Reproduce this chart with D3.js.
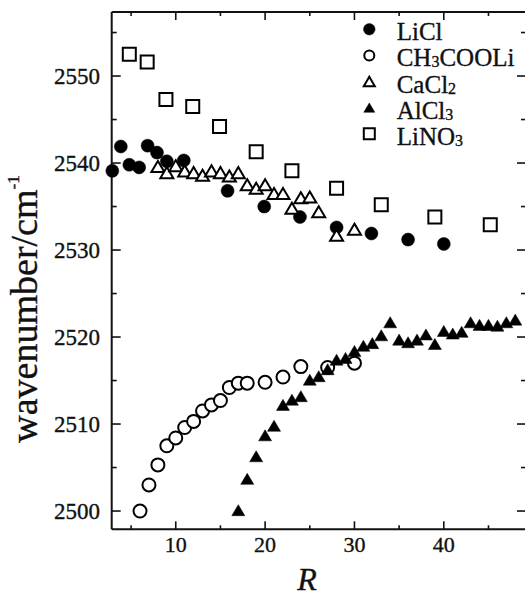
<!DOCTYPE html>
<html>
<head>
    <meta charset="utf-8">
    <script src="https://d3js.org/d3.v7.min.js"></script>
    <style>
        body { margin: 0; background: #fff; }
        text { font-family: "Liberation Serif", "Times New Roman", serif; fill: #111; stroke: #111; stroke-width: 0.35px; }
    </style>
</head>
<body>
    <svg id="chartArea" width="525" height="598"></svg>
    <script>
        // data
        const licl_R = [2.9, 3.85, 4.8, 5.9, 6.85, 7.9, 9.0, 10.9, 15.8, 19.9, 23.9, 28, 31.9, 36, 40];
        const licl_v = [2539.1, 2541.9, 2539.8, 2539.5, 2542.0, 2541.2, 2540.2, 2540.3, 2536.8, 2535.0, 2533.8, 2532.6, 2531.9, 2531.2, 2530.7];

        const acet_R = [6, 7, 8, 9, 10, 11, 12, 13, 14, 15, 16, 17, 18, 20, 22, 24, 27, 30];
        const acet_v = [2500.0, 2503.0, 2505.3, 2507.5, 2508.4, 2509.6, 2510.3, 2511.5, 2512.2, 2512.7, 2514.2, 2514.7, 2514.7, 2514.8, 2515.4, 2516.6, 2516.5, 2517.0];

        const cacl_R = [8, 9, 10, 11, 12, 13, 14, 15, 16, 17, 18, 19, 20, 21, 22, 23, 24, 25, 26, 28, 30];
        const cacl_v = [2539.6, 2538.9, 2539.7, 2539.1, 2538.9, 2538.6, 2539.1, 2538.9, 2538.5, 2538.9, 2537.5, 2537.1, 2537.5, 2536.5, 2536.5, 2534.8, 2536.0, 2536.1, 2534.4, 2531.7, 2532.4];

        const alcl_R = [17, 18, 19, 20, 21, 22, 23, 24, 25, 26, 27, 28, 29, 30, 31, 32, 33, 34, 35, 36, 37, 38, 39, 40, 41, 42, 43, 44, 45, 46, 47, 48];
        const alcl_v = [2500.1, 2503.7, 2506.3, 2508.7, 2509.8, 2512.2, 2512.8, 2513.2, 2515.1, 2515.5, 2516.3, 2517.4, 2517.6, 2518.4, 2519.0, 2519.3, 2520.2, 2521.7, 2519.7, 2519.4, 2519.7, 2520.3, 2519.2, 2520.7, 2520.4, 2520.6, 2521.7, 2521.4, 2521.4, 2521.3, 2521.7, 2522.0];

        const lino_R = [4.8, 6.8, 8.9, 11.9, 14.9, 19, 23, 28, 33, 39, 45.2];
        const lino_v = [2552.5, 2551.6, 2547.3, 2546.5, 2544.2, 2541.3, 2539.1, 2537.1, 2535.2, 2533.8, 2532.9];

        const xTicks = [10, 20, 30, 40];
        const yTicks = [2500, 2510, 2520, 2530, 2540, 2550];

        const series = [
            { name: "LiCl", sub: null, R: licl_R, v: licl_v, shape: "circle", filled: true },
            { name: "CH", sub: "3", rest: "COOLi", R: acet_R, v: acet_v, shape: "circle", filled: false },
            { name: "CaCl", sub: "2", R: cacl_R, v: cacl_v, shape: "triangle", filled: false },
            { name: "AlCl", sub: "3", R: alcl_R, v: alcl_v, shape: "triangle", filled: true },
            { name: "LiNO", sub: "3", R: lino_R, v: lino_v, shape: "square", filled: false }
        ];

        const svg = d3.select("#chartArea");
        const pLeft = 111.7, pRight = 526, pTop = 12, pBottom = 529.3;

        const x = d3.scaleLinear().domain([2.83, 49.2]).range([pLeft, pRight]);
        const y = d3.scaleLinear().domain([2497.9, 2557.36]).range([pBottom, pTop]);

        // marker path generator, centred on bounding box
        function markerPath(shape, s) {
            const h = s / 2;
            if (shape === "circle") {
                return `M${h},0A${h},${h} 0 1,1 ${-h},0A${h},${h} 0 1,1 ${h},0Z`;
            }
            if (shape === "square") {
                return `M${-h},${-h}H${h}V${h}H${-h}Z`;
            }
            const th = s * 0.85 / 2;
            return `M0,${-th}L${h},${th}L${-h},${th}Z`;
        }

        function drawMarker(g, shape, filled, size) {
            g.append("path")
                .attr("d", markerPath(shape, size))
                .attr("fill", filled ? "#000" : "#fff")
                .attr("stroke", "#000")
                .attr("stroke-width", filled ? 0.5 : 2);
        }

        // axes frame
        const frame = svg.append("g").attr("stroke", "#111").attr("stroke-width", 2).attr("fill", "none");
        frame.append("line").attr("x1", pLeft).attr("x2", pLeft).attr("y1", pTop).attr("y2", pBottom);
        frame.append("line").attr("x1", pLeft).attr("x2", pRight).attr("y1", pBottom).attr("y2", pBottom);
        frame.append("line").attr("x1", pLeft).attr("x2", pRight).attr("y1", pTop).attr("y2", pTop);
        frame.append("line").attr("x1", pRight).attr("x2", pRight).attr("y1", pTop).attr("y2", pBottom);

        // ticks pointing inward on all four sides
        const xMinor = d3.range(5, 50, 5);
        const yMinor = d3.range(2500, 2560, 5);
        const tk = svg.append("g").attr("stroke", "#111").attr("stroke-width", 1.6);
        xMinor.forEach(t => {
            const len = t % 10 === 0 ? 8 : 4;
            tk.append("line").attr("x1", x(t)).attr("x2", x(t)).attr("y1", pBottom).attr("y2", pBottom - len);
            tk.append("line").attr("x1", x(t)).attr("x2", x(t)).attr("y1", pTop).attr("y2", pTop + len);
        });
        yMinor.forEach(t => {
            const len = t % 10 === 0 ? 9 : 5;
            tk.append("line").attr("y1", y(t)).attr("y2", y(t)).attr("x1", pLeft).attr("x2", pLeft + len);
            tk.append("line").attr("y1", y(t)).attr("y2", y(t)).attr("x1", pRight).attr("x2", pRight - len);
        });

        // tick labels
        svg.append("g").selectAll("text").data(yTicks).join("text")
            .attr("x", 100).attr("y", d => y(d) + 8)
            .attr("text-anchor", "end")
            .attr("font-size", 23)
            .text(d => d);
        svg.append("g").selectAll("text").data(xTicks).join("text")
            .attr("x", d => x(d)).attr("y", 552)
            .attr("text-anchor", "middle")
            .attr("font-size", 22)
            .text(d => d);

        // axis titles
        svg.append("text")
            .attr("x", 307).attr("y", 590)
            .attr("text-anchor", "middle")
            .attr("font-size", 32)
            .attr("font-style", "italic")
            .attr("stroke-width", 0.2)
            .text("R");

        const yl = svg.append("text")
            .attr("transform", "translate(37,309) rotate(-90)")
            .attr("text-anchor", "middle")
            .attr("font-size", 38)
            .attr("stroke-width", 0.2);
        yl.append("tspan").text("wavenumber/cm");
        yl.append("tspan").attr("font-size", 17).attr("dy", -18).text("-1");

        // data markers
        series.forEach(s => {
            const g = svg.append("g");
            s.R.forEach((r, i) => {
                const m = g.append("g").attr("transform", `translate(${x(r)},${y(s.v[i])})`);
                drawMarker(m, s.shape, s.filled, 13);
            });
        });

        // legend
        const legend = svg.append("g");
        series.forEach((s, i) => {
            const cy = 29.3 + i * 26.1;
            const m = legend.append("g").attr("transform", `translate(369.3,${cy})`);
            drawMarker(m, s.shape, s.filled, s.shape === "circle" ? (s.filled ? 11.5 : 10) : 11);
            const t = legend.append("text")
                .attr("x", 396.7).attr("y", cy + 11)
                .attr("font-size", 25)
                .attr("stroke-width", 0.2);
            t.append("tspan").text(s.name);
            if (s.sub) t.append("tspan").attr("font-size", 16).attr("dy", 1).text(s.sub);
            if (s.rest) t.append("tspan").attr("dy", -1).text(s.rest);
        });
    </script>
</body>
</html>
